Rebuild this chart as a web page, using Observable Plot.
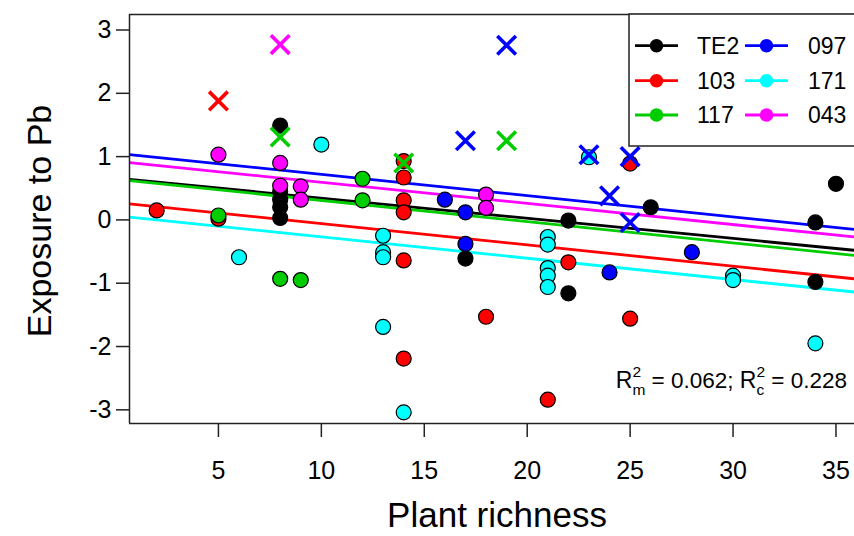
<!DOCTYPE html>
<html><head><meta charset="utf-8">
<script src="https://cdn.jsdelivr.net/npm/d3@7"></script>
<script src="https://cdn.jsdelivr.net/npm/@observablehq/plot@0.6"></script>
<style>
body{margin:0;background:#fff;}
#chart svg{font-family:"Liberation Sans",Arial,sans-serif;color:#000;display:block;}
</style>
</head><body><div id="chart"></div>
<script>
// ---- data ----
const groups = ["TE2","103","117","097","171","043"];
const groupColors = ["#000000","#FF0000","#00CD00","#0000FF","#00FFFF","#FF00FF"];

const te2X = [8,8,8,8,8,17,22,22,26,34,34,35];
const te2Y = [1.49,0.45,0.32,0.20,0.03,-0.61,-0.01,-1.16,0.20,-0.04,-0.98,0.57];
const r103X = [2,5,14,14,14,14,14,14,18,21,22,25,25];
const r103Y = [0.15,0.02,0.93,0.67,0.31,0.12,-0.64,-2.19,-1.53,-2.84,-0.67,0.89,-1.56];
const g117X = [5,8,9,12,12];
const g117Y = [0.07,-0.93,-0.95,0.65,0.31];
const b097X = [16,17,17,24,28];
const b097Y = [0.32,0.12,-0.38,-0.83,-0.51];
const c171X = [6,10,13,13,13,13,14,21,21,21,21,21,23,30,30,34];
const c171Y = [-0.59,1.19,-0.25,-0.51,-0.59,-1.69,-3.04,-0.27,-0.39,-0.76,-0.88,-1.06,0.99,-0.88,-0.95,-1.95];
const m043X = [5,8,8,9,9,18,18];
const m043Y = [1.03,0.90,0.54,0.53,0.32,0.40,0.19];

// outliers drawn as crosses
const crossGroup = ["103","043","117","117","117","097","097","097","097","097","097"];
const crossX = [5,8,8,14,19,17,19,23,24,25,25];
const crossY = [1.88,2.77,1.31,0.90,1.25,1.25,2.76,1.03,0.38,1.00,-0.04];

// fitted lines: value at left edge and right edge of the panel
const lineLeft  = [0.64,0.255,0.62,1.033,0.045,0.905];
const lineRight = [-0.48,-0.93,-0.56,-0.15,-1.14,-0.27];

const xTicks = [5,10,15,20,25,30,35];
const yTicks = [-3,-2,-1,0,1,2,3];
const xDomain = [0.68, 35.9];
const yDomain = [-3.216, 3.245];

// ---- tables ----
const seriesX = [te2X,r103X,g117X,b097X,c171X,m043X];
const seriesY = [te2Y,r103Y,g117Y,b097Y,c171Y,m043Y];
const circles = [];
groups.forEach((g,i)=>seriesX[i].forEach((x,j)=>circles.push({group:g,x,y:seriesY[i][j]})));
const crosses = crossX.map((x,i)=>({group:crossGroup[i],x,y:crossY[i]}));
const lines = groups.map((g,i)=>({group:g,x1:xDomain[0],x2:xDomain[1],y1:lineLeft[i],y2:lineRight[i]}));

const plot = Plot.plot({
  width: 854, height: 536,
  marginLeft: 129, marginTop: 14, marginRight: 0, marginBottom: 113,
  style: {background:"white", color:"black", fontFamily:"Liberation Sans, Arial, sans-serif"},
  x: {domain: xDomain},
  y: {domain: yDomain},
  color: {domain: groups, range: groupColors},
  marks: [
    Plot.link(lines, {x1:"x1",x2:"x2",y1:"y1",y2:"y2",stroke:"group",strokeWidth:2.8,clip:true}),
    Plot.dot(circles, {x:"x",y:"y",fill:"group",stroke:"black",strokeWidth:1.2,r:7.5}),
    Plot.dot(crosses, {x:"x",y:"y",symbol:"times",stroke:"group",strokeWidth:3.6,r:8.5}),
    Plot.ruleX([xDomain[0]], {stroke:"#222",strokeWidth:1.5}),
    Plot.ruleY(yDomain, {stroke:"#222",strokeWidth:1.5}),
    Plot.axisY({ticks:yTicks, tickSize:13, tickPadding:5, fontSize:25, tickFormat:d=>String(d), label:null, stroke:"#222", strokeWidth:1.5}),
    Plot.axisX({ticks:xTicks, tickSize:14, tickPadding:24, fontSize:25, tickFormat:d=>String(d), label:null, stroke:"#222", strokeWidth:1.5})
  ]
});
document.getElementById("chart").appendChild(plot);

const svg = d3.select(plot);
// axis titles
svg.append("text").attr("x",497).attr("y",527).attr("text-anchor","middle")
  .attr("font-size",35).attr("fill","black").text("Plant richness");
svg.append("text").attr("transform","translate(51,221) rotate(-90)").attr("text-anchor","middle")
  .attr("font-size",34).attr("fill","black").text("Exposure to Pb");

// legend
const lg = svg.append("g").attr("text-anchor","start");
lg.append("rect").attr("x",629).attr("y",14).attr("width",240).attr("height",132)
  .attr("fill","white").attr("stroke","#222").attr("stroke-width",1.5);
const rowsY = [45.7,80.7,115];
groups.forEach((g,i)=>{
  const col = Math.floor(i/3), row = i%3;
  const lx = col===0 ? 635 : 745;
  const tx = col===0 ? 697 : 808;
  const y = rowsY[row];
  lg.append("line").attr("x1",lx).attr("x2",lx+43).attr("y1",y).attr("y2",y)
    .attr("stroke",groupColors[i]).attr("stroke-width",2.8);
  lg.append("circle").attr("cx",lx+21.5).attr("cy",y).attr("r",6.8).attr("fill",groupColors[i]);
  lg.append("text").attr("x",tx).attr("y",y).attr("dy","0.36em").attr("font-size",23)
    .attr("fill","black").text(g);
});

// annotation R2m / R2c
const ann = svg.append("g").attr("fill","black").attr("text-anchor","start").style("white-space","pre");
let cx = 0; const base = 388;
function piece(t, size, dy){
  const el = ann.append("text").attr("x",cx).attr("y",base+dy).attr("font-size",size)
    .attr("xml:space","preserve").style("white-space","pre").text(t);
  return el.node().getComputedTextLength();
}
function rsq(sub){
  cx += piece("R",23,0);
  const w1 = piece("2",15.5,-11);
  const w2 = piece(sub,15.5,7);
  cx += Math.max(w1,w2);
}
rsq("m");
cx += piece(" = 0.062; ",22.5,0);
rsq("c");
cx += piece(" = 0.228",22.5,0);
ann.attr("transform",`translate(${847-cx},0)`);
</script></body></html>
